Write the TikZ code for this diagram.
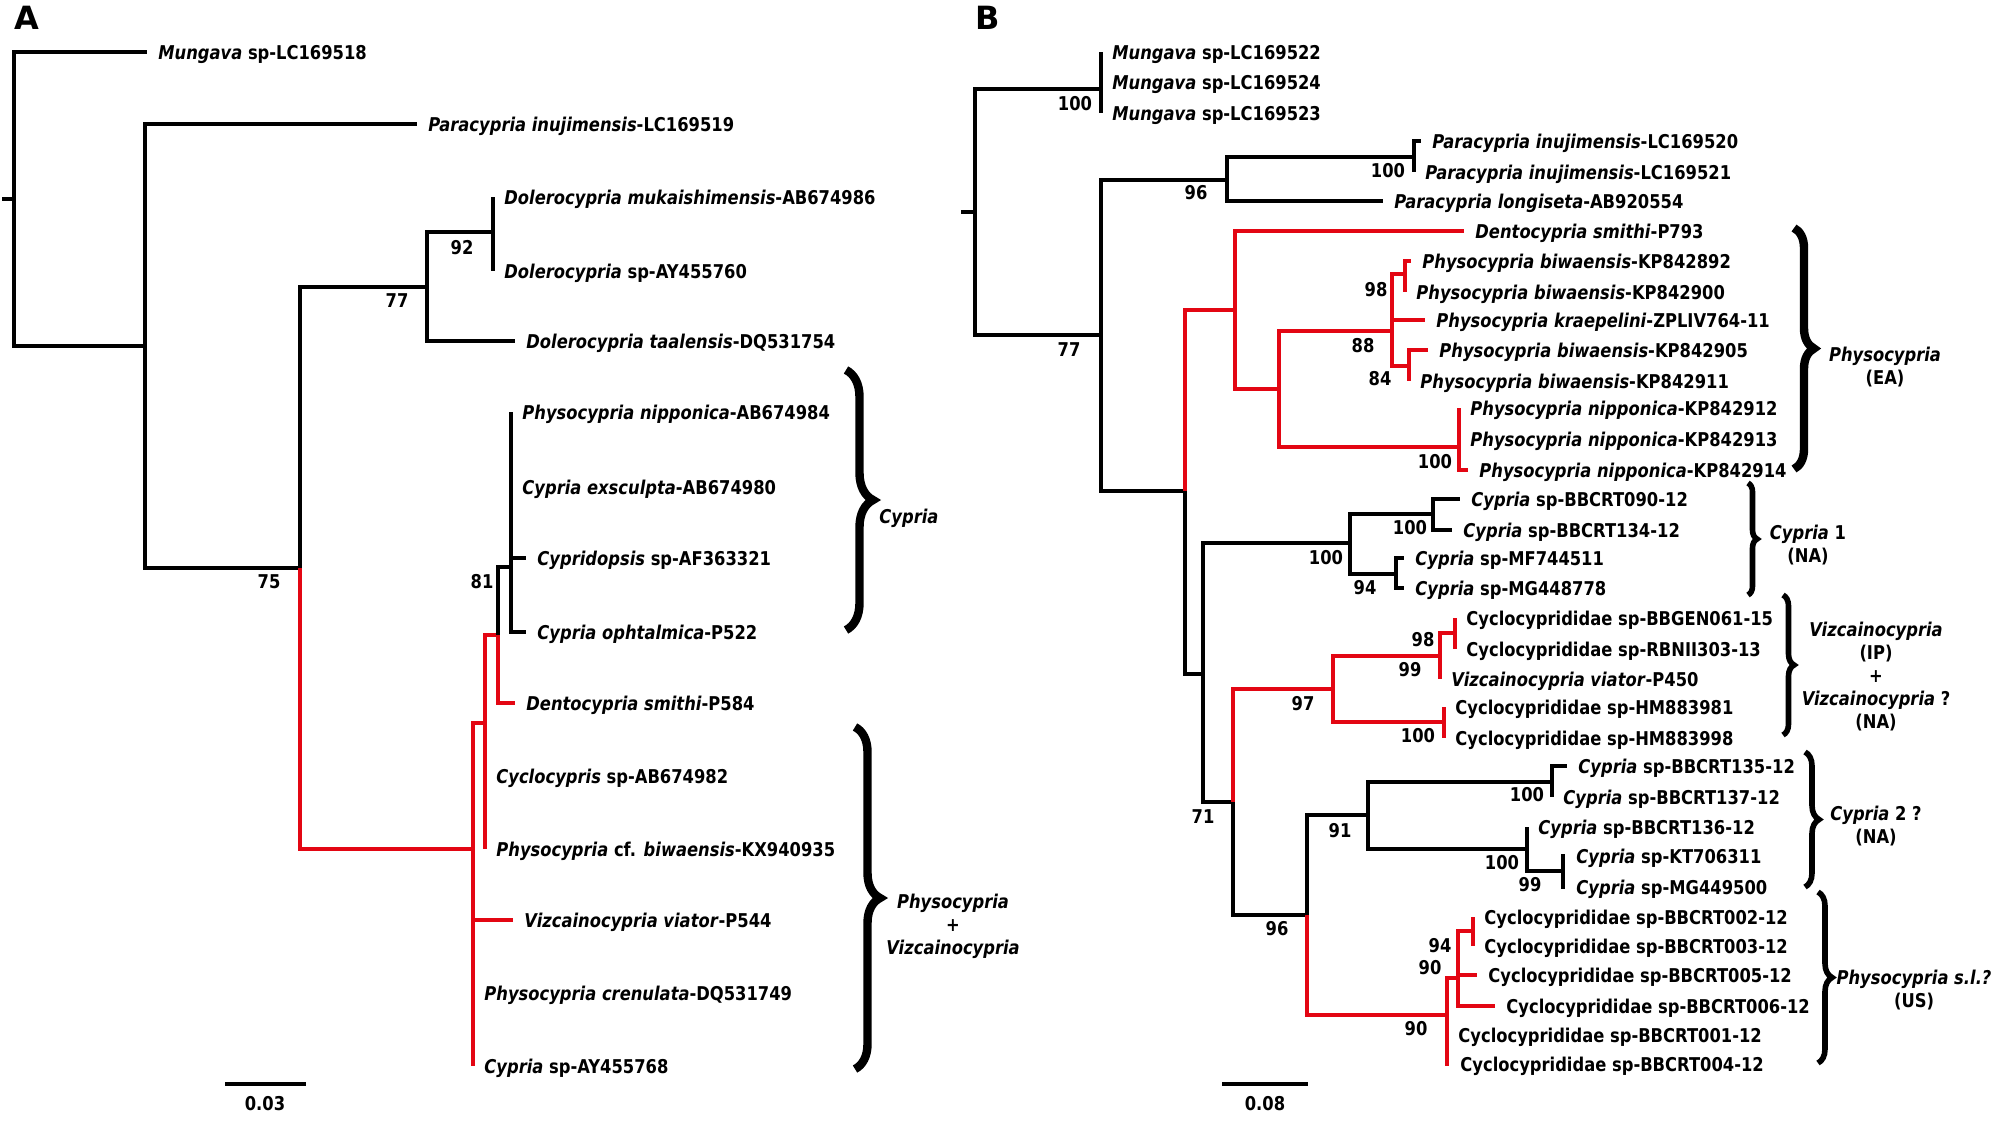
\documentclass[tikz,border=0pt]{standalone}
\usepackage{fontspec}
\usepackage{tikz}
\usetikzlibrary{positioning,decorations.pathreplacing}
\definecolor{treered}{RGB}{227,6,19}
\newfontfamily\treefont{DejaVu Sans}[FakeStretch=0.86,BoldFont={DejaVu Sans Bold},ItalicFont={DejaVu Sans Oblique},BoldItalicFont={DejaVu Sans Bold Oblique}]
\newfontfamily\panelfont{DejaVu Sans}[BoldFont={DejaVu Sans Bold}]
\begin{document}
\begin{tikzpicture}[
  x=0.5pt,y=-0.5pt,
  branch/.style={line width=2pt,black},
  redbranch/.style={line width=2pt,treered},
  taxon/.style={anchor=west,inner sep=0pt,text height=8pt,text depth=1pt,font=\treefont\bfseries\fontsize{9.5}{11.5}\selectfont},
  boot/.style={inner sep=0pt,font=\treefont\bfseries\fontsize{9.5}{11.5}\selectfont},
  group/.style={inner sep=0pt,align=center,font=\treefont\bfseries\fontsize{9.5}{11.5}\selectfont},
  bigbrace/.style={decorate,decoration={brace,amplitude=#1},line width=4.2pt},
  smallbrace/.style={decorate,decoration={brace,amplitude=#1},line width=2.8pt},
  scalebar/.style={line width=2.4pt},
  panel/.style={inner sep=0pt,font=\panelfont\bfseries\fontsize{16}{16}\selectfont}
]
\useasboundingbox[fill=white] (0,0) rectangle (1996,1120);

% ---------- panel A ----------
\node[panel] (pA) at (27,18) {A};
\coordinate (sA) at (2,199);
\coordinate (rA) at (14,199);
\coordinate (nA1) at (145,346);
\coordinate (nA2) at (300,568);
\coordinate (nA3) at (427,287);
\coordinate (nA4) at (493,232);
\coordinate (nA5) at (473,849);
\coordinate (nA6) at (485,723);
\coordinate (nA7) at (498,635);
\coordinate (nA8) at (511,567);

\coordinate (tA1) at (147,52);
\coordinate (tA2) at (417,124);
\coordinate (tA3) at (493,197);
\coordinate (tA4) at (493,271);
\coordinate (tA5) at (515,341);
\coordinate (tA6) at (511,412);
\coordinate (tA7) at (511,487);
\coordinate (tA8) at (526,558);
\coordinate (tA9) at (526,632);
\coordinate (tA10) at (515,703);
\coordinate (tA11) at (485,776);
\coordinate (tA12) at (485,849);
\coordinate (tA13) at (513,920);
\coordinate (tA14) at (473,993);
\coordinate (tA15) at (473,1066);

\draw[branch] (sA) -- (rA);
\draw[branch] (rA) |- (tA1);
\draw[branch] (rA) |- (nA1);
\draw[branch] (nA1) |- (tA2);
\draw[branch] (nA1) |- (nA2);
\draw[branch] (nA2) |- (nA3);
\draw[redbranch] (nA2) |- (nA5);
\draw[branch] (nA3) |- (nA4);
\draw[branch] (nA3) |- (tA5);
\draw[branch] (nA4) |- (tA3);
\draw[branch] (nA4) |- (tA4);
\draw[redbranch] (nA5) |- (nA6);
\draw[redbranch] (nA5) |- (tA13);
\draw[redbranch] (nA5) |- (tA14);
\draw[redbranch] (nA5) |- (tA15);
\draw[redbranch] (nA6) |- (nA7);
\draw[redbranch] (nA6) |- (tA11);
\draw[redbranch] (nA6) |- (tA12);
\draw[branch] (nA7) |- (nA8);
\draw[redbranch] (nA7) |- (tA10);
\foreach \t in {tA6,tA7,tA8,tA9} \draw[branch] (nA8) |- (\t);

\node[taxon,right=5.5pt of tA1] (lA1) {\textit{Mungava} sp-LC169518};
\node[taxon,right=5.5pt of tA2] (lA2) {\textit{Paracypria inujimensis}-LC169519};
\node[taxon,right=5.5pt of tA3] (lA3) {\textit{Dolerocypria mukaishimensis}-AB674986};
\node[taxon,right=5.5pt of tA4] (lA4) {\textit{Dolerocypria} sp-AY455760};
\node[taxon,right=5.5pt of tA5] (lA5) {\textit{Dolerocypria taalensis}-DQ531754};
\node[taxon,right=5.5pt of tA6] (lA6) {\textit{Physocypria nipponica}-AB674984};
\node[taxon,right=5.5pt of tA7] (lA7) {\textit{Cypria exsculpta}-AB674980};
\node[taxon,right=5.5pt of tA8] (lA8) {\textit{Cypridopsis} sp-AF363321};
\node[taxon,right=5.5pt of tA9] (lA9) {\textit{Cypria ophtalmica}-P522};
\node[taxon,right=5.5pt of tA10] (lA10) {\textit{Dentocypria smithi}-P584};
\node[taxon,right=5.5pt of tA11] (lA11) {\textit{Cyclocypris} sp-AB674982};
\node[taxon,right=5.5pt of tA12] (lA12) {\textit{Physocypria} cf. \textit{biwaensis}-KX940935};
\node[taxon,right=5.5pt of tA13] (lA13) {\textit{Vizcainocypria viator}-P544};
\node[taxon,right=5.5pt of tA14] (lA14) {\textit{Physocypria crenulata}-DQ531749};
\node[taxon,right=5.5pt of tA15] (lA15) {\textit{Cypria} sp-AY455768};

\node[boot] (bA1) at (462,248) {92};
\node[boot] (bA2) at (397,301) {77};
\node[boot] (bA3) at (269,582) {75};
\node[boot] (bA4) at (482,582) {81};

\coordinate (cA1a) at (846,370);
\coordinate (cA1b) at (846,630);
\coordinate (cA2a) at (855,727);
\coordinate (cA2b) at (855,1069);
\draw[bigbrace=13.5pt] (cA1a) -- (cA1b);
\draw[bigbrace=12.5pt] (cA2a) -- (cA2b);
\node[group,anchor=west] (gA1) at (879,518) {\textit{Cypria}};
\node[group] (gA2) at (953,926) {\textit{Physocypria}\\+\\\textit{Vizcainocypria}};

\coordinate (sbA1) at (225,1084);
\coordinate (sbA2) at (306,1084);
\draw[scalebar] (sbA1) -- (sbA2);
\node[boot] (sbAl) at (265,1104) {0.03};

% ---------- panel B ----------
\node[panel] (pB) at (988,18) {B};
\coordinate (sB) at (961,212);
\coordinate (rB) at (975,212);
\coordinate (nB1) at (1101,89);
\coordinate (nB2) at (1101,335);
\coordinate (nB3) at (1227,180);
\coordinate (nB4) at (1414,157);
\coordinate (nB5) at (1185,491);
\coordinate (nB6) at (1235,310);
\coordinate (nB7) at (1279,389);
\coordinate (nB8) at (1392,331);
\coordinate (nB9) at (1405,274);
\coordinate (nB10) at (1409,366);
\coordinate (nB11) at (1459,447);
\coordinate (nB12) at (1203,674);
\coordinate (nB13) at (1350,543);
\coordinate (nB14) at (1433,514);
\coordinate (nB15) at (1396,574);
\coordinate (nB16) at (1233,802);
\coordinate (nB17) at (1333,689);
\coordinate (nB18) at (1440,656);
\coordinate (nB19) at (1455,633);
\coordinate (nB20) at (1444,722);
\coordinate (nB21) at (1307,915);
\coordinate (nB22) at (1368,815);
\coordinate (nB23) at (1552,782);
\coordinate (nB24) at (1527,849);
\coordinate (nB25) at (1563,871);
\coordinate (nB26) at (1447,1015);
\coordinate (nB27) at (1458,978);
\coordinate (nB28) at (1473,931);

\coordinate (tB1) at (1101,52);
\coordinate (tB2) at (1101,82);
\coordinate (tB3) at (1101,113);
\coordinate (tB4) at (1421,141);
\coordinate (tB5) at (1414,172);
\coordinate (tB6) at (1383,201);
\coordinate (tB7) at (1464,231);
\coordinate (tB8) at (1411,261);
\coordinate (tB9) at (1405,292);
\coordinate (tB10) at (1425,320);
\coordinate (tB11) at (1428,350);
\coordinate (tB12) at (1409,381);
\coordinate (tB13) at (1459,408);
\coordinate (tB14) at (1459,439);
\coordinate (tB15) at (1468,470);
\coordinate (tB16) at (1460,499);
\coordinate (tB17) at (1452,530);
\coordinate (tB18) at (1404,558);
\coordinate (tB19) at (1404,588);
\coordinate (tB20) at (1455,618);
\coordinate (tB21) at (1455,649);
\coordinate (tB22) at (1440,679);
\coordinate (tB23) at (1444,707);
\coordinate (tB24) at (1444,738);
\coordinate (tB25) at (1567,766);
\coordinate (tB26) at (1552,797);
\coordinate (tB27) at (1527,827);
\coordinate (tB28) at (1565,856);
\coordinate (tB29) at (1565,887);
\coordinate (tB30) at (1473,917);
\coordinate (tB31) at (1473,946);
\coordinate (tB32) at (1477,975);
\coordinate (tB33) at (1495,1006);
\coordinate (tB34) at (1447,1035);
\coordinate (tB35) at (1449,1064);

\draw[branch] (sB) -- (rB);
\draw[branch] (rB) |- (nB1);
\draw[branch] (rB) |- (nB2);
\foreach \t in {tB1,tB2,tB3} \draw[branch] (nB1) |- (\t);
\draw[branch] (nB2) |- (nB3);
\draw[branch] (nB2) |- (nB5);
\draw[branch] (nB3) |- (nB4);
\draw[branch] (nB3) |- (tB6);
\draw[branch] (nB4) |- (tB4);
\draw[branch] (nB4) |- (tB5);
\draw[redbranch] (nB5) |- (nB6);
\draw[branch] (nB5) |- (nB12);
\draw[redbranch] (nB6) |- (tB7);
\draw[redbranch] (nB6) |- (nB7);
\draw[redbranch] (nB7) |- (nB8);
\draw[redbranch] (nB7) |- (nB11);
\draw[redbranch] (nB8) |- (nB9);
\draw[redbranch] (nB8) |- (tB10);
\draw[redbranch] (nB8) |- (nB10);
\foreach \t in {tB8,tB9} \draw[redbranch] (nB9) |- (\t);
\foreach \t in {tB11,tB12} \draw[redbranch] (nB10) |- (\t);
\foreach \t in {tB13,tB14,tB15} \draw[redbranch] (nB11) |- (\t);
\draw[branch] (nB12) |- (nB13);
\draw[branch] (nB12) |- (nB16);
\draw[branch] (nB13) |- (nB14);
\draw[branch] (nB13) |- (nB15);
\foreach \t in {tB16,tB17} \draw[branch] (nB14) |- (\t);
\foreach \t in {tB18,tB19} \draw[branch] (nB15) |- (\t);
\draw[redbranch] (nB16) |- (nB17);
\draw[branch] (nB16) |- (nB21);
\draw[redbranch] (nB17) |- (nB18);
\draw[redbranch] (nB17) |- (nB20);
\draw[redbranch] (nB18) |- (nB19);
\draw[redbranch] (nB18) |- (tB22);
\foreach \t in {tB20,tB21} \draw[redbranch] (nB19) |- (\t);
\foreach \t in {tB23,tB24} \draw[redbranch] (nB20) |- (\t);
\draw[branch] (nB21) |- (nB22);
\draw[redbranch] (nB21) |- (nB26);
\draw[branch] (nB22) |- (nB23);
\draw[branch] (nB22) |- (nB24);
\foreach \t in {tB25,tB26} \draw[branch] (nB23) |- (\t);
\draw[branch] (nB24) |- (tB27);
\draw[branch] (nB24) |- (nB25);
\foreach \t in {tB28,tB29} \draw[branch] (nB25) |- (\t);
\draw[redbranch] (nB26) |- (nB27);
\foreach \t in {tB34,tB35} \draw[redbranch] (nB26) |- (\t);
\draw[redbranch] (nB27) |- (nB28);
\foreach \t in {tB32,tB33} \draw[redbranch] (nB27) |- (\t);
\foreach \t in {tB30,tB31} \draw[redbranch] (nB28) |- (\t);

\node[taxon,right=5.5pt of tB1] (lB1) {\textit{Mungava} sp-LC169522};
\node[taxon,right=5.5pt of tB2] (lB2) {\textit{Mungava} sp-LC169524};
\node[taxon,right=5.5pt of tB3] (lB3) {\textit{Mungava} sp-LC169523};
\node[taxon,right=5.5pt of tB4] (lB4) {\textit{Paracypria inujimensis}-LC169520};
\node[taxon,right=5.5pt of tB5] (lB5) {\textit{Paracypria inujimensis}-LC169521};
\node[taxon,right=5.5pt of tB6] (lB6) {\textit{Paracypria longiseta}-AB920554};
\node[taxon,right=5.5pt of tB7] (lB7) {\textit{Dentocypria smithi}-P793};
\node[taxon,right=5.5pt of tB8] (lB8) {\textit{Physocypria biwaensis}-KP842892};
\node[taxon,right=5.5pt of tB9] (lB9) {\textit{Physocypria biwaensis}-KP842900};
\node[taxon,right=5.5pt of tB10] (lB10) {\textit{Physocypria kraepelini}-ZPLIV764-11};
\node[taxon,right=5.5pt of tB11] (lB11) {\textit{Physocypria biwaensis}-KP842905};
\node[taxon,right=5.5pt of tB12] (lB12) {\textit{Physocypria biwaensis}-KP842911};
\node[taxon,right=5.5pt of tB13] (lB13) {\textit{Physocypria nipponica}-KP842912};
\node[taxon,right=5.5pt of tB14] (lB14) {\textit{Physocypria nipponica}-KP842913};
\node[taxon,right=5.5pt of tB15] (lB15) {\textit{Physocypria nipponica}-KP842914};
\node[taxon,right=5.5pt of tB16] (lB16) {\textit{Cypria} sp-BBCRT090-12};
\node[taxon,right=5.5pt of tB17] (lB17) {\textit{Cypria} sp-BBCRT134-12};
\node[taxon,right=5.5pt of tB18] (lB18) {\textit{Cypria} sp-MF744511};
\node[taxon,right=5.5pt of tB19] (lB19) {\textit{Cypria} sp-MG448778};
\node[taxon,right=5.5pt of tB20] (lB20) {Cyclocyprididae sp-BBGEN061-15};
\node[taxon,right=5.5pt of tB21] (lB21) {Cyclocyprididae sp-RBNII303-13};
\node[taxon,right=5.5pt of tB22] (lB22) {\textit{Vizcainocypria viator}-P450};
\node[taxon,right=5.5pt of tB23] (lB23) {Cyclocyprididae sp-HM883981};
\node[taxon,right=5.5pt of tB24] (lB24) {Cyclocyprididae sp-HM883998};
\node[taxon,right=5.5pt of tB25] (lB25) {\textit{Cypria} sp-BBCRT135-12};
\node[taxon,right=5.5pt of tB26] (lB26) {\textit{Cypria} sp-BBCRT137-12};
\node[taxon,right=5.5pt of tB27] (lB27) {\textit{Cypria} sp-BBCRT136-12};
\node[taxon,right=5.5pt of tB28] (lB28) {\textit{Cypria} sp-KT706311};
\node[taxon,right=5.5pt of tB29] (lB29) {\textit{Cypria} sp-MG449500};
\node[taxon,right=5.5pt of tB30] (lB30) {Cyclocyprididae sp-BBCRT002-12};
\node[taxon,right=5.5pt of tB31] (lB31) {Cyclocyprididae sp-BBCRT003-12};
\node[taxon,right=5.5pt of tB32] (lB32) {Cyclocyprididae sp-BBCRT005-12};
\node[taxon,right=5.5pt of tB33] (lB33) {Cyclocyprididae sp-BBCRT006-12};
\node[taxon,right=5.5pt of tB34] (lB34) {Cyclocyprididae sp-BBCRT001-12};
\node[taxon,right=5.5pt of tB35] (lB35) {Cyclocyprididae sp-BBCRT004-12};

\node[boot] (bB1) at (1075,104) {100};
\node[boot] (bB2) at (1069,350) {77};
\node[boot] (bB3) at (1196,193) {96};
\node[boot] (bB4) at (1388,171) {100};
\node[boot] (bB5) at (1376,290) {98};
\node[boot] (bB6) at (1363,346) {88};
\node[boot] (bB7) at (1380,379) {84};
\node[boot] (bB8) at (1435,462) {100};
\node[boot] (bB9) at (1326,558) {100};
\node[boot] (bB10) at (1410,528) {100};
\node[boot] (bB11) at (1365,588) {94};
\node[boot] (bB12) at (1423,640) {98};
\node[boot] (bB13) at (1410,670) {99};
\node[boot] (bB14) at (1303,704) {97};
\node[boot] (bB15) at (1418,736) {100};
\node[boot] (bB16) at (1203,817) {71};
\node[boot] (bB17) at (1340,831) {91};
\node[boot] (bB18) at (1527,795) {100};
\node[boot] (bB19) at (1502,863) {100};
\node[boot] (bB20) at (1530,885) {99};
\node[boot] (bB21) at (1277,929) {96};
\node[boot] (bB22) at (1440,946) {94};
\node[boot] (bB23) at (1430,968) {90};
\node[boot] (bB24) at (1416,1029) {90};

\coordinate (cB1a) at (1794,228);
\coordinate (cB1b) at (1794,469);
\coordinate (cB2a) at (1748,483);
\coordinate (cB2b) at (1748,595);
\coordinate (cB3a) at (1783,595);
\coordinate (cB3b) at (1783,735);
\coordinate (cB4a) at (1805,752);
\coordinate (cB4b) at (1805,887);
\coordinate (cB5a) at (1818,892);
\coordinate (cB5b) at (1818,1063);
\draw[bigbrace=10pt] (cB1a) -- (cB1b);
\draw[smallbrace=4.5pt] (cB2a) -- (cB2b);
\draw[smallbrace=5.5pt] (cB3a) -- (cB3b);
\draw[smallbrace=7pt] (cB4a) -- (cB4b);
\draw[smallbrace=7pt] (cB5a) -- (cB5b);
\node[group] (gB1) at (1885,367) {\textit{Physocypria}\\(EA)};
\node[group] (gB2) at (1808,545) {\textit{Cypria} 1\\(NA)};
\node[group] (gB3) at (1876,677) {\textit{Vizcainocypria}\\(IP)\\+\\\textit{Vizcainocypria} ?\\(NA)};
\node[group] (gB4) at (1876,826) {\textit{Cypria} 2 ?\\(NA)};
\node[group] (gB5) at (1914,990) {\textit{Physocypria s.l.?}\\(US)};

\coordinate (sbB1) at (1222,1084);
\coordinate (sbB2) at (1308,1084);
\draw[scalebar] (sbB1) -- (sbB2);
\node[boot] (sbBl) at (1265,1104) {0.08};
\end{tikzpicture}
\end{document}
